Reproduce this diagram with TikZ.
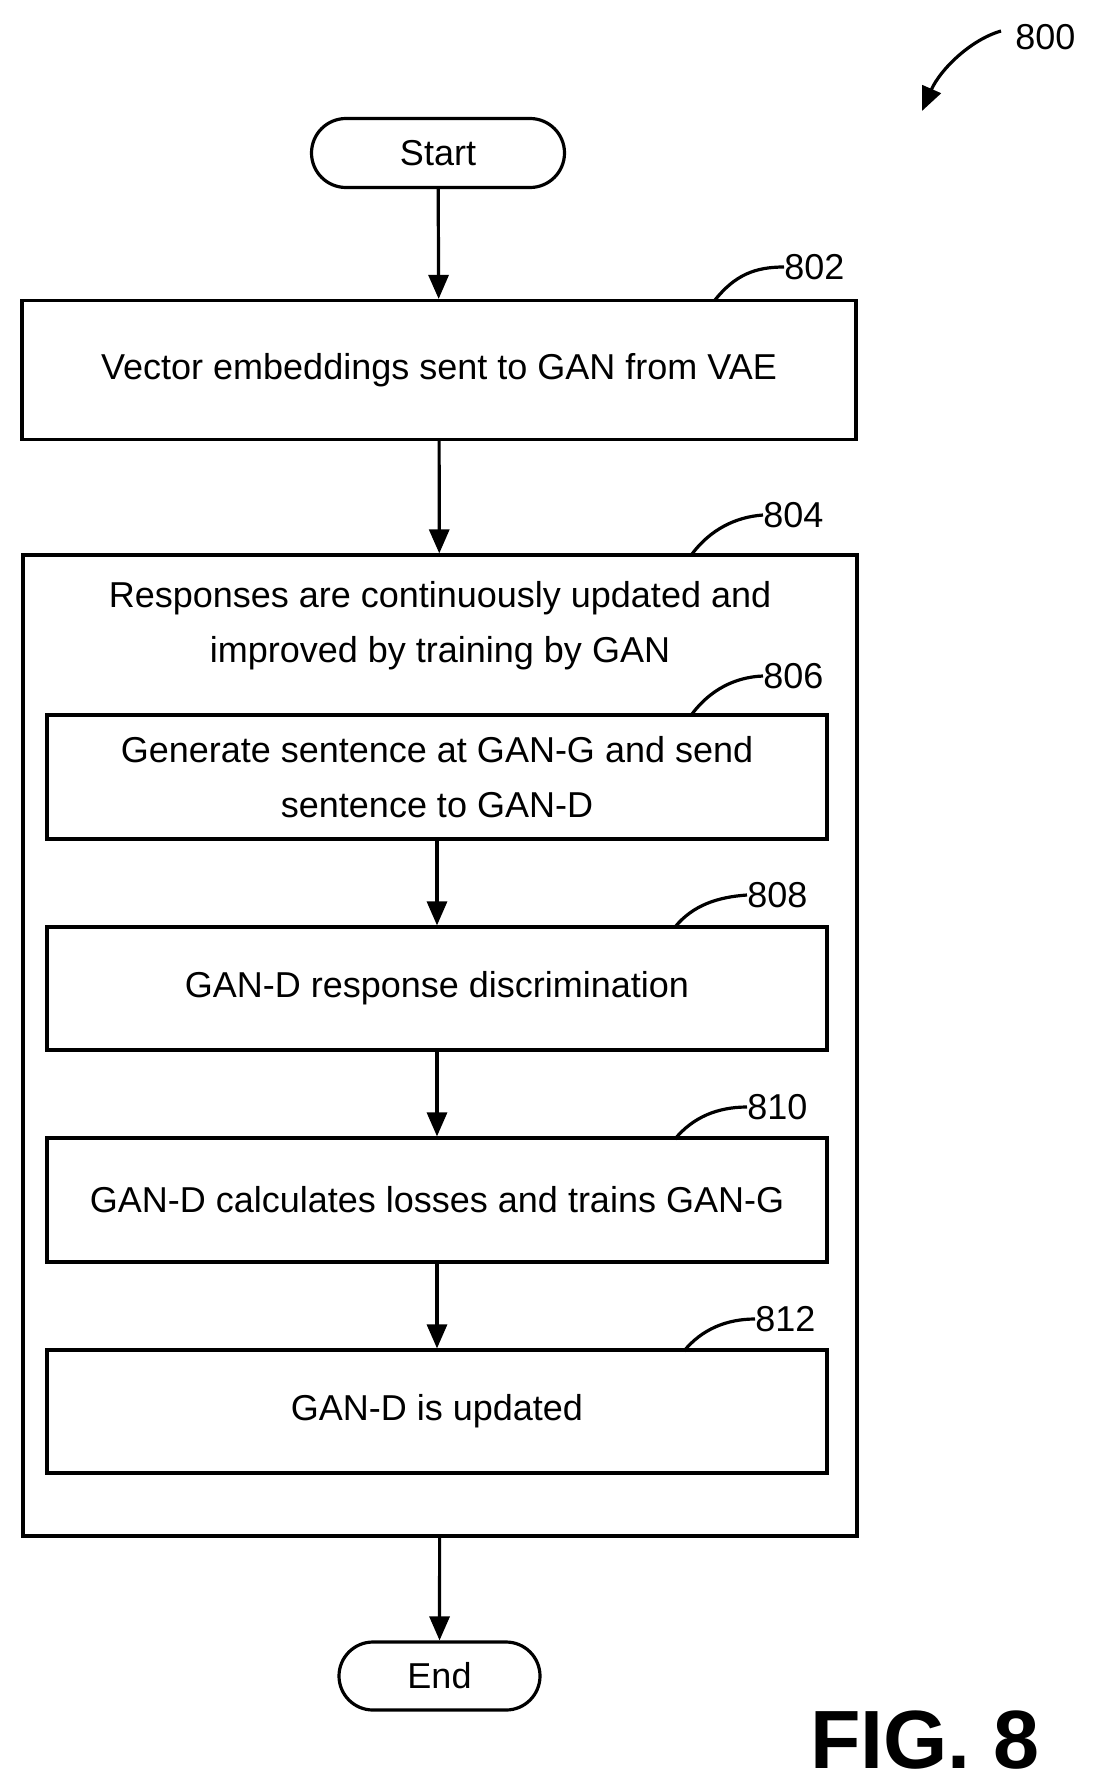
\documentclass[tikz,border=0pt]{standalone}
\usepackage{fontspec}
\setmainfont{Liberation Sans}
\usetikzlibrary{arrows.meta,shapes.misc}
\begin{document}
\begin{tikzpicture}[x=0.75pt,y=-0.75pt,
  box/.style={draw,line width=2.4pt,inner sep=0pt,align=center,font=\fontsize{27}{41}\selectfont},
  term/.style={draw,line width=2.4pt,rounded rectangle,inner sep=0pt,font=\fontsize{27}{32}\selectfont},
  flow/.style={line width=2.4pt,-{Triangle[length=18pt,width=15pt]}},
  lead/.style={line width=2.4pt},
  num/.style={font=\fontsize{27}{32}\selectfont,inner sep=0pt}]
\useasboundingbox (0,0) rectangle (1098,1791);
\node[term,minimum width=253*0.75pt,minimum height=69*0.75pt] (start) at (438,153) {Start};
\node[box,minimum width=834*0.75pt,minimum height=139*0.75pt] (b802) at (439,370) {Vector embeddings sent to GAN from VAE};
\node[box,minimum width=834*0.75pt,minimum height=981*0.75pt] (b804) at (440,1045.5) {};
\node[font=\fontsize{27}{41}\selectfont,align=center,inner sep=0pt] (t804) at (440,626) {Responses are continuously updated and\\improved by training by GAN};
\node[box,minimum width=780*0.75pt,minimum height=124*0.75pt] (b806) at (437,777) {Generate sentence at GAN-G and send\\sentence to GAN-D};
\node[box,minimum width=780*0.75pt,minimum height=123*0.75pt] (b808) at (437,988.5) {GAN-D response discrimination};
\node[box,minimum width=780*0.75pt,minimum height=124*0.75pt] (b810) at (437,1200) {GAN-D calculates losses and trains GAN-G};
\node[box,minimum width=780*0.75pt,minimum height=123*0.75pt] (b812) at (437,1411.5) {GAN-D is updated};
\node[term,minimum width=201*0.75pt,minimum height=68*0.75pt] (end) at (439.5,1676) {End};
\draw[flow] (start) -- (b802);
\draw[flow] (b802) -- (b804);
\draw[flow] (b806) -- (b808);
\draw[flow] (b808) -- (b810);
\draw[flow] (b810) -- (b812);
\draw[flow] (b804) -- (end);
% labels
\node[num,anchor=west] (n800) at (1015,37) {800};
\node[num,anchor=west] (n802) at (784,267) {802};
\node[num,anchor=west] (n804) at (763,515) {804};
\node[num,anchor=west] (n806) at (763,676) {806};
\node[num,anchor=west] (n808) at (747,895) {808};
\node[num,anchor=west] (n810) at (747,1107) {810};
\node[num,anchor=west] (n812) at (755,1319) {812};
\draw[line width=2.4pt,-{Triangle[length=18pt,width=15pt]}] (n800.west) ++(-14,-6) coordinate (c800) .. controls (970,40) and (940,70) .. (922,111);
\draw[lead] (715,300) .. controls (735,275) and (755,267) .. (n802.west);
\draw[lead] (692,554) .. controls (710,530) and (735,517) .. (n804.west);
\draw[lead] (692,714) .. controls (710,690) and (735,677) .. (n806.west);
\draw[lead] (675,927) .. controls (693,905) and (718,897) .. (n808.west);
\draw[lead] (675,1139) .. controls (693,1117) and (718,1107) .. (n810.west);
\draw[lead] (684,1351) .. controls (702,1329) and (727,1319) .. (n812.west);
\node[font=\fontsize{62}{62}\selectfont\bfseries,inner sep=0pt] (fig) at (925,1740) {FIG. 8};
\end{tikzpicture}
\end{document}
